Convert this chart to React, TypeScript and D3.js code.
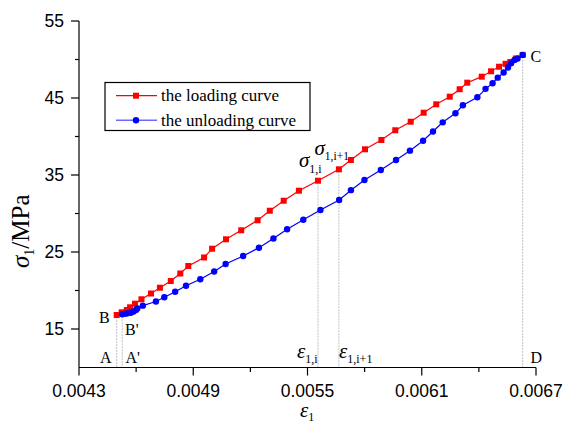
import React from "react";
import * as d3 from "d3";

// Loading branch (ε1, σ1 in MPa)
const loadStrain = [
  0.004498, 0.004524, 0.004551, 0.004568, 0.004594, 0.004628, 0.004678, 0.004725,
  0.004782, 0.004832, 0.004874, 0.004957, 0.004999, 0.005072, 0.005152, 0.005238,
  0.005302, 0.005375, 0.005455, 0.005555, 0.005665, 0.005728, 0.005802, 0.005888,
  0.005961, 0.006042, 0.00611, 0.006176, 0.006247, 0.006299, 0.006339, 0.006415,
  0.006464, 0.006506, 0.00654, 0.006565, 0.006594, 0.00663,
];
const loadStress = [
  16.82, 17.17, 17.47, 17.82, 18.29, 18.86, 19.61, 20.36,
  21.23, 22.21, 23.18, 24.29, 25.43, 26.65, 27.82, 29.12,
  30.36, 31.66, 32.96, 34.26, 35.74, 36.95, 38.34, 39.55,
  40.81, 41.92, 43.09, 44.18, 45.17, 46.14, 46.99, 47.77,
  48.47, 49.06, 49.44, 49.68, 50.13, 50.6,
];

// Unloading branch
const unloadStrain = [
  0.004527, 0.004536, 0.004551, 0.004572, 0.004586, 0.004599, 0.004606, 0.004635,
  0.004704, 0.004748, 0.004805, 0.004862, 0.004937, 0.00501, 0.00507, 0.005162,
  0.005245, 0.005321, 0.005393, 0.005478, 0.005568, 0.005666, 0.005728, 0.005799,
  0.005885, 0.005965, 0.006038, 0.006107, 0.006159, 0.00621, 0.006277, 0.006316,
  0.006392, 0.006435, 0.006472, 0.006499, 0.00653, 0.006553, 0.006569, 0.006587,
  0.006603, 0.00663,
];
const unloadStress = [
  16.91, 16.97, 17.01, 17.12, 17.27, 17.47, 17.66, 18.03,
  18.57, 19.13, 19.84, 20.61, 21.47, 22.47, 23.44, 24.48,
  25.56, 26.75, 27.95, 29.18, 30.45, 31.75, 33.03, 34.35,
  35.65, 36.95, 38.16, 39.45, 40.65, 41.84, 43.01, 44.05,
  45.09, 46.19, 46.91, 47.64, 48.31, 48.96, 49.51, 49.94,
  50.13, 50.6,
];

const xMajorTicks = [0.0043, 0.0049, 0.0055, 0.0061, 0.0067];
const xMinorTicks = [0.0046, 0.0052, 0.0058, 0.0064];
const yMajorTicks = [15, 25, 35, 45, 55];
const yMinorTicks = [20, 30, 40, 50];

const legendLabels = ["the loading curve", "the unloading curve"];

// index of the marked step i on the loading curve
const iStep = 19;

const W = 563;
const H = 426;
const SERIF = "'Liberation Serif', 'Times New Roman', serif";
const SANS = "'Liberation Sans', Arial, sans-serif";

export default function App() {
  const x = d3.scaleLinear().domain([0.0043, 0.0067]).range([79, 536]);
  const y = d3.scaleLinear().domain([10, 55]).range([367.5, 21]);

  const load = loadStrain.map((e, i) => [e, loadStress[i]] as [number, number]);
  const unload = unloadStrain.map((e, i) => [e, unloadStress[i]] as [number, number]);

  const line = d3
    .line<[number, number]>()
    .x((d) => x(d[0]))
    .y((d) => y(d[1]));

  const y0 = y(10);
  const x0 = x(0.0043);

  const B = load[0];
  const Bp = unload[0];
  const Pi = load[iStep];
  const Pi1 = load[iStep + 1];
  const C = load[load.length - 1];

  const guides: [number, number][] = [B, Bp, Pi, Pi1, C];

  const red = "#ff0000";
  const blue = "#0000ff";

  return (
    <svg
      width={W}
      height={H}
      style={{ position: "absolute", left: 0, top: 0, background: "#fff" }}
    >
      {/* vertical guide lines */}
      {guides.map((p, k) => (
        <line
          key={k}
          x1={x(p[0])}
          x2={x(p[0])}
          y1={y(p[1]) + 2}
          y2={y0}
          stroke="#b0b0b0"
          strokeWidth={0.8}
          strokeDasharray="2,1"
        />
      ))}

      {/* loading curve */}
      <path d={line(load) ?? ""} fill="none" stroke={red} strokeWidth={1.2} />
      {load.map((d, i) => (
        <rect
          key={i}
          x={x(d[0]) - 3}
          y={y(d[1]) - 3}
          width={6}
          height={6}
          fill={red}
        />
      ))}

      {/* unloading curve */}
      <path d={line(unload) ?? ""} fill="none" stroke={blue} strokeWidth={1.2} />
      {unload.map((d, i) => (
        <circle key={i} cx={x(d[0])} cy={y(d[1])} r={3.2} fill={blue} />
      ))}

      {/* axes */}
      <line x1={x0} x2={x0} y1={y(55)} y2={y0} stroke="#000" strokeWidth={1.2} />
      <line x1={x0} x2={x(0.0067)} y1={y0} y2={y0} stroke="#000" strokeWidth={1.2} />
      {yMajorTicks.map((t) => (
        <g key={"ym" + t}>
          <line x1={x0 - 8} x2={x0} y1={y(t)} y2={y(t)} stroke="#000" strokeWidth={1.2} />
          <text
            x={x0 - 15}
            y={y(t)}
            dy="0.36em"
            textAnchor="end"
            fontFamily={SANS}
            fontSize={17.5}
          >
            {t}
          </text>
        </g>
      ))}
      {yMinorTicks.map((t) => (
        <line key={"yn" + t} x1={x0 - 4} x2={x0} y1={y(t)} y2={y(t)} stroke="#000" strokeWidth={1.2} />
      ))}
      {xMajorTicks.map((t) => (
        <g key={"xm" + t}>
          <line x1={x(t)} x2={x(t)} y1={y0} y2={y0 + 8} stroke="#000" strokeWidth={1.2} />
          <text
            x={x(t)}
            y={397}
            textAnchor="middle"
            fontFamily={SANS}
            fontSize={17.5}
          >
            {t.toFixed(4)}
          </text>
        </g>
      ))}
      {xMinorTicks.map((t) => (
        <line key={"xn" + t} x1={x(t)} x2={x(t)} y1={y0} y2={y0 + 4.5} stroke="#000" strokeWidth={1.2} />
      ))}

      {/* axis titles */}
      <text x={300} y={417} fontFamily={SERIF} fontSize={21} fontStyle="italic">
        ε
        <tspan fontStyle="normal" fontSize={12} dy={4}>
          1
        </tspan>
      </text>
      <text
        transform="translate(29,268) rotate(-90)"
        fontFamily={SERIF}
        fontSize={25}
      >
        <tspan fontStyle="italic">σ</tspan>
        <tspan fontSize={14} dy={5}>
          1
        </tspan>
        <tspan dy={-5}>/MPa</tspan>
      </text>

      {/* point labels */}
      <g fontFamily={SERIF} fontSize={16}>
        <text x={99} y={322.5}>B</text>
        <text x={125} y={335}>B'</text>
        <text x={100} y={363}>A</text>
        <text x={125.5} y={363}>A'</text>
        <text x={530.5} y={62}>C</text>
        <text x={530.5} y={362.5}>D</text>
      </g>

      <text x={299} y={167} fontFamily={SERIF} fontSize={21} fontStyle="italic">
        σ
        <tspan fontStyle="normal" fontSize={12} dy={6}>
          1,i
        </tspan>
      </text>
      <text x={314.5} y={155} fontFamily={SERIF} fontSize={21} fontStyle="italic">
        σ
        <tspan fontStyle="normal" fontSize={11.5} dy={4.5}>
          1,i+1
        </tspan>
      </text>
      <text x={297} y={358} fontFamily={SERIF} fontSize={21} fontStyle="italic">
        ε
        <tspan fontStyle="normal" fontSize={12} dy={5}>
          1,i
        </tspan>
      </text>
      <text x={339} y={358} fontFamily={SERIF} fontSize={21} fontStyle="italic">
        ε
        <tspan fontStyle="normal" fontSize={12} dy={5}>
          1,i+1
        </tspan>
      </text>

      {/* legend */}
      <rect x={105} y={82.5} width={205} height={48} fill="#fff" stroke="#000" strokeWidth={1.2} />
      <line x1={116} x2={157} y1={95.7} y2={95.7} stroke={red} strokeWidth={1.2} />
      <rect x={133} y={92.7} width={6} height={6} fill={red} />
      <line x1={116} x2={157} y1={120.3} y2={120.3} stroke="#6a6aff" strokeWidth={1.5} />
      <circle cx={136} cy={120.3} r={3.2} fill={blue} />
      <g fontFamily={SERIF} fontSize={17}>
        <text x={161} y={101}>{legendLabels[0]}</text>
        <text x={161} y={125.5}>{legendLabels[1]}</text>
      </g>
    </svg>
  );
}
